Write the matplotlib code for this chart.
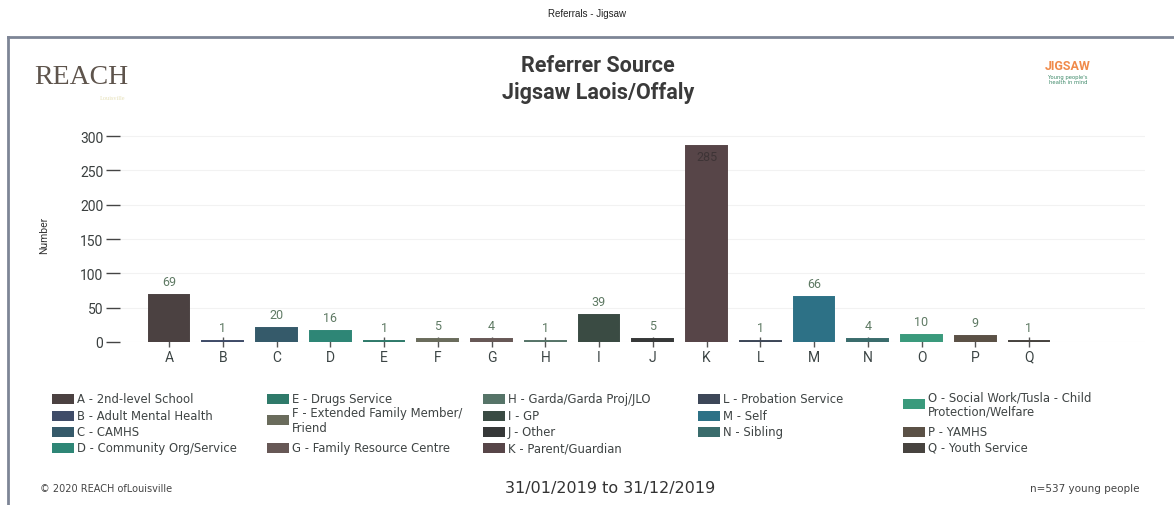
import matplotlib
matplotlib.use("Agg")
import matplotlib.pyplot as plt
from matplotlib.patches import Rectangle
from matplotlib.lines import Line2D
import matplotlib.font_manager as fm

# ---------------- data ----------------
categories = ["A", "B", "C", "D", "E", "F", "G", "H", "I", "J", "K", "L", "M", "N", "O", "P", "Q"]
values = [69, 1, 20, 16, 1, 5, 4, 1, 39, 5, 285, 1, 66, 4, 10, 9, 1]
legend_labels = [
    "A - 2nd-level School", "B - Adult Mental Health", "C - CAMHS", "D - Community Org/Service",
    "E - Drugs Service", "F - Extended Family Member/\nFriend", "G - Family Resource Centre",
    "H - Garda/Garda Proj/JLO", "I - GP", "J - Other", "K - Parent/Guardian",
    "L - Probation Service", "M - Self", "N - Sibling",
    "O - Social Work/Tusla - Child\nProtection/Welfare", "P - YAMHS", "Q - Youth Service",
]
bar_colors = ["#4b4141", "#3f4c68", "#355a6a", "#2e8676", "#2f7a6a", "#6a6c5c", "#675856",
              "#567468", "#3a4b43", "#363838", "#574548", "#3d4758", "#2d7186", "#3a6c6c",
              "#3a9a7c", "#5b5146", "#47433f"]
yticks = [0, 50, 100, 150, 200, 250, 300]
title_lines = ["Referrer Source", "Jigsaw Laois/Offaly"]
date_range = "31/01/2019 to 31/12/2019"
n_text = "n=537 young people"
copyright_text = "\u00a9 2020 REACH ofLouisville"
page_header = "Referrals - Jigsaw"

# ---------------- fonts ----------------
avail = {f.name for f in fm.fontManager.ttflist}
NARROW = ["Liberation Sans Narrow", "DejaVu Sans"] if "Liberation Sans Narrow" in avail else ["Roboto", "DejaVu Sans"]
LEG = ["DejaVu Sans"]

W, H = 1174, 506
fig = plt.figure(figsize=(W / 100, H / 100), dpi=100)
fig.patch.set_facecolor("white")

def fx(px):
    return px / W

def fy(py):
    return 1 - py / H

# page border
fig.add_artist(Line2D([fx(8), fx(1174)], [fy(38), fy(38)], color="#7d8596", lw=2.0))
fig.add_artist(Line2D([fx(8), fx(8)], [fy(38), fy(506)], color="#7d8596", lw=2.0))

fig.text(fx(587), fy(14), page_header, ha="center", va="center", fontsize=7,
         family=["Liberation Sans", "DejaVu Sans"], color="#222222")

# ---------------- axes ----------------
x0, x1 = 120, 1145
y_zero, y_300, y_top = 343, 137, 127
ppu = (y_zero - y_300) / 300.0
ax = fig.add_axes([fx(x0), fy(y_zero), (x1 - x0) / W, (y_zero - y_top) / H])
xs = list(range(len(categories)))
ax.set_xlim((x0 - 169) / 53.75, (x1 - 169) / 53.75)
ax.set_ylim(0, (y_zero - y_top) / ppu)
ax.bar(xs, values, width=0.76, color=bar_colors, edgecolor=bar_colors, linewidth=1.4, zorder=3)

for s in ax.spines.values():
    s.set_visible(False)
ax.set_yticks(yticks)
ax.set_yticklabels([str(t) for t in yticks], family=NARROW, fontsize=10, color="#3a3f3f")
ax.tick_params(axis="y", length=10, width=1.0, color="#444444", pad=2)
ax.set_xticks(xs)
ax.set_xticklabels(categories, family=NARROW, fontsize=10, color="#3c4545")
ax.tick_params(axis="x", direction="inout", length=7, width=1.0, color="#555555", pad=2)
ax.yaxis.grid(True, color="#f2f2f2", lw=0.8, zorder=0)
ax.set_ylabel("Number", family=NARROW, fontsize=7.5, color="#333333", labelpad=22)

for xi, v in zip(xs, values):
    if v > 200:
        ax.annotate(str(v), (xi, v), xytext=(0, -3), textcoords="offset points", ha="center", va="top",
                    fontsize=9, family=NARROW, color="#3e3436", zorder=4)
    else:
        ax.annotate(str(v), (xi, v), xytext=(0, 5), textcoords="offset points", ha="center", va="bottom",
                    fontsize=9, family=NARROW, color="#5f7a64", zorder=4)

# ---------------- titles / logos ----------------
fig.text(fx(598), fy(66), title_lines[0], ha="center", va="center", fontsize=15.5, fontweight="bold",
         family=NARROW, color="#3a3a3a")
fig.text(fx(598), fy(93), title_lines[1], ha="center", va="center", fontsize=15.5, fontweight="bold",
         family=NARROW, color="#3a3a3a")
fig.text(fx(34), fy(77), "REACH", ha="left", va="center", fontsize=20,
         family=["Liberation Serif", "DejaVu Serif"], color="#5e544c")
fig.text(fx(100), fy(99), "Louisville", ha="left", va="center", fontsize=4.5,
         family=["Liberation Serif", "DejaVu Serif"], color="#e6e0b8")
fig.text(fx(1068), fy(67), "JIGSAW", ha="center", va="center", fontsize=9, fontweight="bold",
         family=NARROW, color="#f08a4a")
fig.text(fx(1068), fy(80), "Young people's\nhealth in mind", ha="center", va="center", fontsize=3.8,
         family=["DejaVu Sans"], color="#3f8a6a", linespacing=1.0)

# ---------------- legend (manual layout) ----------------
col_x = [52, 267, 483, 698, 903]
columns = [[0, 1, 2, 3], [4, 5, 6], [7, 8, 9, 10], [11, 12, 13], [14, 15, 16]]
item_y = {0: 400, 1: 416.5, 2: 433, 3: 449,
          4: 400, 5: 421, 6: 449,
          7: 400, 8: 416.5, 9: 433, 10: 449,
          11: 400, 12: 416.5, 13: 433,
          14: 405, 15: 433, 16: 448.5}
sw_w, sw_h = 22, 10
for ci, items in enumerate(columns):
    for idx in items:
        yc = item_y[idx]
        fig.add_artist(Rectangle((fx(col_x[ci]), fy(yc + sw_h / 2)), sw_w / W, sw_h / H,
                                 facecolor=bar_colors[idx], edgecolor="none"))
        fig.text(fx(col_x[ci] + sw_w + 3), fy(yc), legend_labels[idx], ha="left", va="center",
                 fontsize=8.4, family=LEG, color="#3f4444", linespacing=1.15)

# ---------------- footer ----------------
fig.text(fx(40), fy(489), copyright_text, ha="left", va="center", fontsize=7, family=LEG, color="#444444")
fig.text(fx(610), fy(489), date_range, ha="center", va="center", fontsize=11.5, family=LEG, color="#333333")
fig.text(fx(1140), fy(489), n_text, ha="right", va="center", fontsize=7.5, family=LEG, color="#444444")

fig.savefig("out.png", dpi=100)
